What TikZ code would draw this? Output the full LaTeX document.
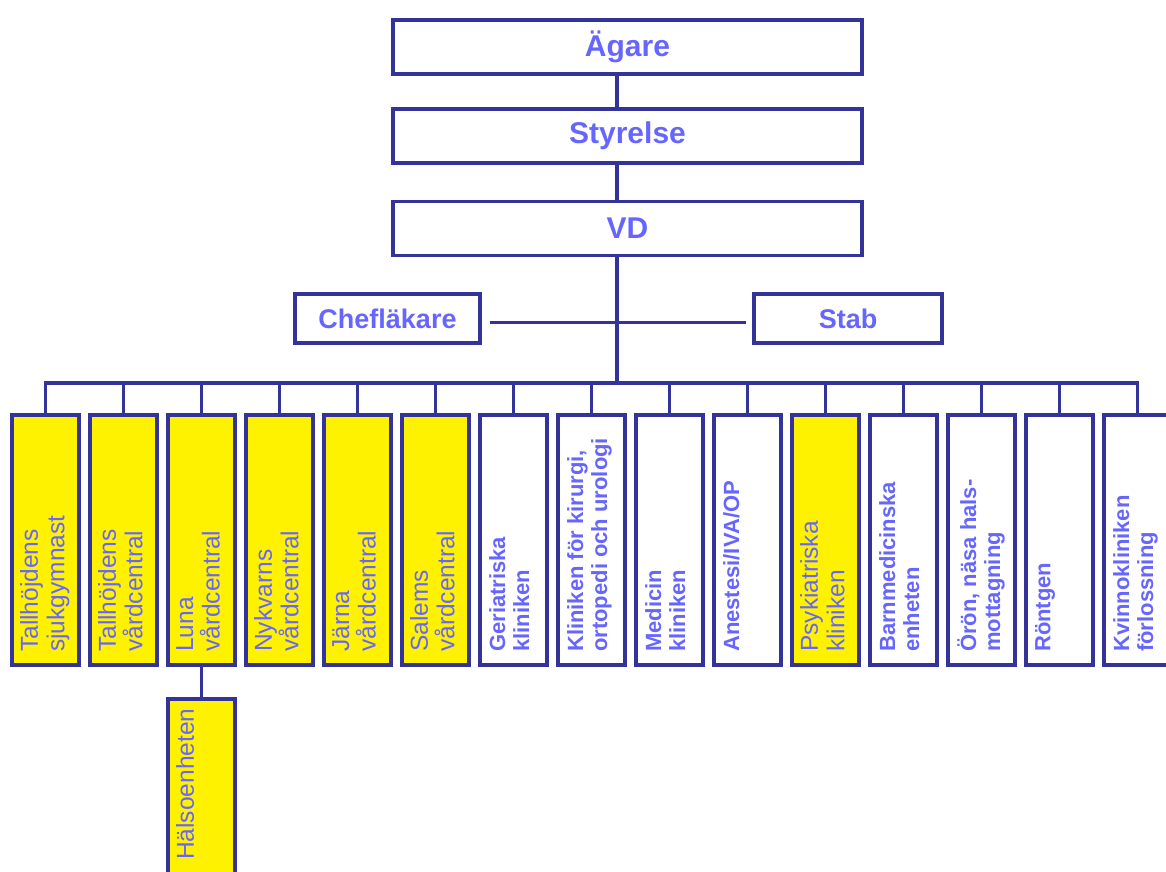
\documentclass[tikz,border=0pt]{standalone}
\usepackage{fontspec}
\setmainfont{Liberation Sans}
\usepackage{tikz}

\definecolor{linkblue}{RGB}{51,51,153}
\definecolor{textblue}{RGB}{102,102,255}

\tikzset{
  topbox/.style={draw=linkblue, line width=3.5pt, fill=white, minimum width=469pt,
    minimum height=54pt, inner sep=0pt, outer sep=0pt, text=textblue,
    font=\bfseries\fontsize{30}{32}\selectfont},
  sidebox/.style={topbox, minimum height=49pt, font=\bfseries\fontsize{27}{29}\selectfont},
  unitbox/.style={draw=linkblue, line width=3.5pt, minimum width=67pt, minimum height=250pt,
    inner sep=0pt, outer sep=0pt, anchor=north west},
  yellowbox/.style={unitbox, fill=yellow},
  whitebox/.style={unitbox, fill=white},
  unittext/.style={rotate=90, anchor=north west, align=left, inner sep=0pt, text=textblue},
  yellowtext/.style={unittext, font=\fontsize{24.5}{26.5}\selectfont},
  whitetext/.style={unittext, font=\bfseries\fontsize{22}{24}\selectfont},
  conn/.style={draw=linkblue, line width=3.5pt}
}

\begin{document}
\begin{tikzpicture}[x=1pt, y=-1pt]
        \useasboundingbox (0,0) rectangle (1166,871);
        \clip (0,0) rectangle (1166,871);

        % Draw the top boxes
        \node[topbox] (agare) at (627.5,47) {Ägare};
        \node[topbox] (styrelse) at (627.5,136) {Styrelse};
        \node[topbox] (vd) at (627.5,228.5) {VD};

        % Draw the side boxes
        \node[sidebox, minimum width=185pt] (chef) at (387.5,318.5) {Chefläkare};
        \node[sidebox, minimum width=188pt] (stab) at (848,318.5) {Stab};

        % Draw the trunk and the bus
        \coordinate (trunk) at (617,0);
        \coordinate (bus) at (617,383);
        \draw[conn] (agare.south -| trunk) -- (styrelse.north -| trunk);
        \draw[conn] (styrelse.south -| trunk) -- (vd.north -| trunk);
        \draw[conn] ([xshift=10pt,yshift=-4pt]chef.east) -- ([xshift=-8pt,yshift=-4pt]stab.west);
        \draw[conn] (vd.south -| trunk) -- (bus);

        % Draw the unit boxes
        \node[yellowbox] (b1) at (12,415) {};
        \node[yellowbox] (b2) at (90,415) {};
        \node[yellowbox] (b3) at (168,415) {};
        \node[yellowbox] (b4) at (246,415) {};
        \node[yellowbox] (b5) at (324,415) {};
        \node[yellowbox] (b6) at (402,415) {};
        \node[whitebox] (b7) at (480,415) {};
        \node[whitebox] (b8) at (558,415) {};
        \node[whitebox] (b9) at (636,415) {};
        \node[whitebox] (b10) at (714,415) {};
        \node[yellowbox] (b11) at (792,415) {};
        \node[whitebox] (b12) at (870,415) {};
        \node[whitebox] (b13) at (948,415) {};
        \node[whitebox] (b14) at (1026,415) {};
        \node[whitebox] (b15) at (1104,415) {};

        % Draw the box below Luna
        \node[yellowbox, minimum height=176pt] (b16) at (168,699) {};

        % Draw the unit texts
        \node[yellowtext] (t1) at ([xshift=8pt,yshift=13pt]b1.south west) {Tallhöjdens\\sjukgymnast};
        \node[yellowtext] (t2) at ([xshift=8pt,yshift=13pt]b2.south west) {Tallhöjdens\\vårdcentral};
        \node[yellowtext] (t3) at ([xshift=8pt,yshift=13pt]b3.south west) {Luna\\vårdcentral};
        \node[yellowtext] (t4) at ([xshift=8pt,yshift=13pt]b4.south west) {Nykvarns\\vårdcentral};
        \node[yellowtext] (t5) at ([xshift=8pt,yshift=13pt]b5.south west) {Järna\\vårdcentral};
        \node[yellowtext] (t6) at ([xshift=8pt,yshift=13pt]b6.south west) {Salems\\vårdcentral};
        \node[whitetext] (t7) at ([xshift=9pt,yshift=13pt]b7.south west) {Geriatriska\\kliniken};
        \node[whitetext] (t8) at ([xshift=9pt,yshift=13pt]b8.south west) {Kliniken för kirurgi,\\ortopedi och urologi};
        \node[whitetext] (t9) at ([xshift=9pt,yshift=13pt]b9.south west) {Medicin\\kliniken};
        \node[whitetext] (t10) at ([xshift=9pt,yshift=13pt]b10.south west) {Anestesi/IVA/OP};
        \node[yellowtext] (t11) at ([xshift=8pt,yshift=13pt]b11.south west) {Psykiatriska\\kliniken};
        \node[whitetext] (t12) at ([xshift=9pt,yshift=13pt]b12.south west) {Barnmedicinska\\enheten};
        \node[whitetext] (t13) at ([xshift=9pt,yshift=13pt]b13.south west) {Örön, näsa hals-\\mottagning};
        \node[whitetext] (t14) at ([xshift=9pt,yshift=13pt]b14.south west) {Röntgen};
        \node[whitetext] (t15) at ([xshift=9pt,yshift=13pt]b15.south west) {Kvinnokliniken\\förlossning};
        \node[yellowtext] (t16) at ([xshift=8pt,yshift=15pt]b16.south west) {Hälsoenheten};

        % Draw the drops from the bus
        \draw[conn] (b1.north) |- (bus) -| (b15.north);
        \draw[conn] (b2.north) -- (b2.north |- bus);
        \draw[conn] (b3.north) -- (b3.north |- bus);
        \draw[conn] (b4.north) -- (b4.north |- bus);
        \draw[conn] (b5.north) -- (b5.north |- bus);
        \draw[conn] (b6.north) -- (b6.north |- bus);
        \draw[conn] (b7.north) -- (b7.north |- bus);
        \draw[conn] (b8.north) -- (b8.north |- bus);
        \draw[conn] (b9.north) -- (b9.north |- bus);
        \draw[conn] (b10.north) -- (b10.north |- bus);
        \draw[conn] (b11.north) -- (b11.north |- bus);
        \draw[conn] (b12.north) -- (b12.north |- bus);
        \draw[conn] (b13.north) -- (b13.north |- bus);
        \draw[conn] (b14.north) -- (b14.north |- bus);
        \draw[conn] (b3.south) -- (b16.north);
\end{tikzpicture}
\end{document}
